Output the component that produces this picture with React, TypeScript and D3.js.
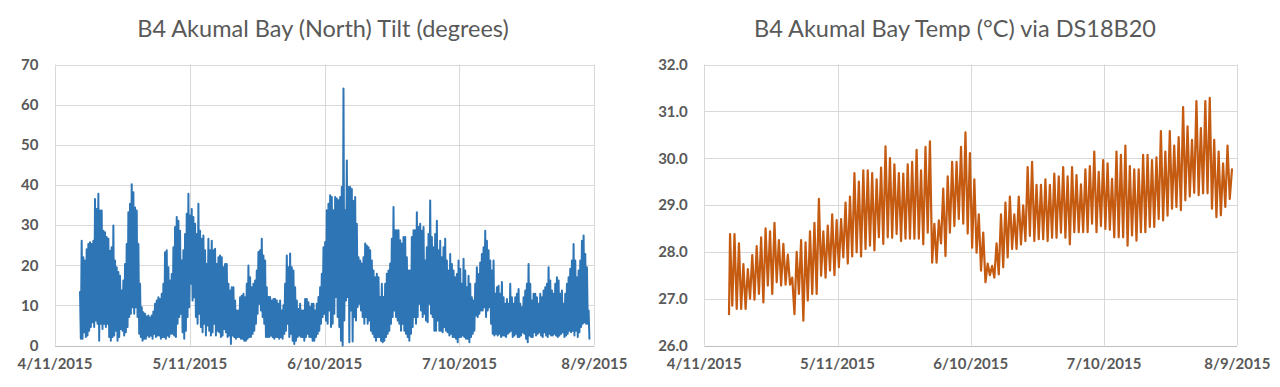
import React from "react";
import * as d3 from "d3";

// ---------- shared x axis ----------
const xTickLabels = ["4/11/2015", "5/11/2015", "6/10/2015", "7/10/2015", "8/9/2015"];

// ---------- Tilt chart (degrees) ----------
const tiltTitle = "B4 Akumal Bay (North) Tilt (degrees)";
const tiltYTicks = [0, 10, 20, 30, 40, 50, 60, 70];
const tiltStart = "2015-04-16T13:35:00";
const tiltStepHours = 8.905;
// upper excursion of each sample window
const tiltHigh = [
  13.3, 26.1, 22.0, 21.2, 24.0, 25.3, 25.7, 25.3, 26.1, 36.5,
  34.0, 37.8, 33.6, 33.6, 28.6, 28.2, 27.0, 26.6, 23.6, 24.5,
  29.9, 21.2, 19.5, 18.3, 17.4, 13.7, 16.2, 20.3, 25.3, 33.2,
  35.3, 40.2, 38.2, 34.4, 33.6, 25.3, 15.4, 9.5, 8.3, 7.9,
  7.2, 7.5, 7.0, 7.5, 8.5, 10.4, 11.2, 12.0, 11.6, 12.9,
  15.4, 23.2, 23.7, 19.5, 16.2, 17.8, 24.5, 29.5, 32.0, 31.1,
  28.6, 21.2, 23.7, 27.8, 32.8, 37.8, 32.4, 34.0, 32.0, 30.3,
  27.8, 35.3, 28.6, 26.6, 27.4, 23.7, 20.3, 26.6, 23.7, 26.1,
  23.7, 24.1, 20.3, 22.0, 22.4, 22.0, 19.5, 20.3, 20.3, 15.4,
  13.7, 14.5, 14.5, 11.2, 8.7, 8.7, 12.0, 12.4, 12.9, 12.0,
  15.4, 19.9, 17.0,
  14.5, 15.4, 16.2, 18.7, 23.3, 23.7, 26.6, 22.4, 21.2, 14.5,
  12.1, 12.1, 11.2, 11.6, 11.6, 11.2, 10.4, 11.2, 8.7, 10.0,
  15.4, 22.4, 19.5, 22.9, 19.5, 18.7, 14.5, 11.2, 9.1, 10.4,
  8.7, 8.7, 11.6, 11.6, 10.8, 9.6, 10.4, 10.4, 8.7, 10.4,
  12.1, 14.5, 17.9, 24.5, 25.8, 33.7, 35.3, 37.4, 37.0, 33.7,
  37.0, 36.6, 36.2, 37.0, 39.5, 64.0, 33.7, 46.1, 39.5, 39.5,
  39.0, 36.0, 37.0, 30.3, 22.0, 21.2, 20.4, 22.0, 25.4, 24.9,
  24.5, 23.7, 21.2, 18.7, 17.0, 17.9, 17.0, 12.1, 15.4, 12.1,
  15.4, 17.9, 18.7, 20.4, 26.6, 34.5, 28.7, 28.7, 28.7, 26.2,
  25.4, 27.0, 27.0, 22.0, 18.7, 18.7, 27.0, 28.7, 28.7, 33.2,
  29.5, 30.3,
  28.6, 29.5, 21.2, 24.5, 27.8, 36.1, 27.0, 24.5, 27.8, 31.1,
  23.7, 26.1, 22.0, 24.5, 26.6, 21.2, 18.7, 22.8, 20.3, 18.7,
  17.0, 17.8, 21.2, 19.1, 15.4, 21.6, 18.7, 14.5, 17.4, 15.4,
  12.0, 11.2, 15.4, 19.5, 17.8, 20.7, 22.8, 24.5, 28.6, 26.1,
  23.7, 21.2, 18.7, 21.2, 12.9, 14.5, 14.9, 12.9, 15.8, 12.0,
  10.4, 11.6, 10.4, 15.4, 12.0, 10.4, 12.0, 12.9, 14.1, 10.4,
  9.5, 12.0, 13.7, 15.4, 20.3, 15.4, 11.2, 12.9, 12.9, 12.0,
  10.4, 12.9, 12.0, 13.7, 14.5, 15.4, 19.5, 16.2, 13.7, 12.9,
  15.4, 17.0, 16.2, 12.9, 13.7, 10.4, 12.9, 15.4, 17.0, 19.1,
  21.2, 25.3, 21.2, 17.0, 18.7, 21.2, 26.1, 27.4, 22.8, 19.5,
  8.7,
];
// lower excursion of each sample window
const tiltLow = [
  1.7, 1.7, 3.3, 2.1, 2.5, 3.7, 4.6, 5.8, 4.6, 6.2,
  5.4, 1.2, 5.4, 4.1, 5.4, 4.6, 5.4, 2.1, 1.2, 2.1,
  2.5, 3.7, 1.2, 2.1, 4.1, 3.7, 2.5, 3.3, 4.6, 7.1,
  7.9, 9.5, 7.9, 9.5, 7.1, 2.9, 2.1, 1.2, 1.7, 1.7,
  2.5, 2.1, 2.5, 1.7, 2.9, 2.1, 2.5, 2.5, 1.7, 2.1,
  2.1, 1.7, 2.5, 2.1, 2.9, 2.9, 2.5, 2.1, 5.4, 7.1,
  7.9, 3.3, 1.7, 3.7, 7.1, 9.5, 15.4, 11.2, 12.0, 7.1,
  5.4, 7.9, 4.6, 3.3, 5.4, 2.5, 5.0, 3.7, 2.5, 3.3,
  5.4, 2.5, 3.7, 3.3, 2.1, 2.5, 4.1, 3.3, 2.1, 2.5,
  0.4, 2.5, 2.1, 1.7, 2.1, 2.1, 1.7, 1.7, 1.2, 1.2,
  1.7, 2.1, 2.1,
  2.9, 3.7, 5.4, 7.9, 10.4, 8.7, 7.1, 5.4, 2.1, 2.1,
  2.1, 2.5, 2.1, 1.7, 2.1, 2.1, 1.7, 2.1, 1.7, 2.9,
  3.7, 5.4, 2.1, 2.9, 1.2, 0.4, 1.2, 2.1, 2.5, 2.1,
  2.1, 1.2, 2.1, 2.9, 2.1, 2.1, 1.2, 1.2, 2.1, 2.9,
  3.7, 5.4, 7.1, 7.9, 6.2, 5.4, 8.7, 4.6, 5.4, 7.9,
  12.1, 7.1, 4.6, 1.2, 0.0, 6.2, 11.2, 12.1, 0.8, 8.7,
  1.0, 7.1, 6.2, 9.6, 10.4, 8.7, 7.1, 5.4, 7.1, 5.4,
  6.2, 3.7, 2.9, 2.1, 1.2, 2.1, 2.1, 1.2, 0.8, 1.2,
  2.1, 2.9, 3.7, 5.4, 7.1, 8.7, 7.1, 6.2, 5.4, 3.7,
  5.4, 3.7, 2.9, 2.1, 1.2, 2.9, 4.6, 7.1, 5.4, 7.1,
  10.4, 8.7,
  7.1, 7.9, 6.2, 5.8, 10.4, 7.9, 7.1, 3.7, 3.7, 6.2,
  3.7, 3.7, 3.3, 4.6, 3.7, 3.3, 2.5, 2.9, 2.1, 2.1,
  1.7, 0.8, 2.1, 2.1, 2.5, 2.1, 1.7, 1.7, 0.8, 2.1,
  2.9, 3.7, 7.5, 7.1, 7.9, 8.7, 8.7, 9.5, 7.1, 8.7,
  9.5, 5.4, 2.9, 2.5, 2.9, 2.5, 2.9, 2.1, 2.5, 2.5,
  2.1, 2.9, 3.3, 3.7, 2.1, 2.5, 2.9, 2.1, 2.1, 2.5,
  3.3, 2.9, 1.7, 0.8, 2.5, 2.1, 2.1, 3.3, 2.5, 2.9,
  3.3, 2.5, 2.1, 3.3, 2.5, 2.1, 2.9, 2.5, 2.5, 2.9,
  2.5, 2.1, 2.5, 2.9, 3.3, 2.1, 2.5, 2.9, 3.7, 3.3,
  3.7, 2.5, 3.7, 2.1, 3.3, 4.6, 5.4, 5.8, 5.4, 5.4,
  1.7,
];

// ---------- Temperature chart (°C) ----------
const tempTitle = "B4 Akumal Bay Temp (°C) via DS18B20";
const tempYTicks = [26, 27, 28, 29, 30, 31, 32];
const tempStartTime = "2015-04-16T13:30:00";
const tempStartValue = 26.67;
const tempFirstPeak = "2015-04-16T19:10:00";
// daily maxima
const tempPeaks = [
  28.38, 28.38, 28.18, 27.74, 27.63, 27.93, 28.12, 28.31, 28.5, 28.44,
  28.62, 28.25, 28.17, 27.94, 27.45, 28.0, 28.25, 28.2, 28.44, 28.62,
  29.13, 28.44, 28.56, 28.8, 28.68, 28.7, 29.05, 29.18, 29.68, 29.5,
  29.74, 29.74, 29.68, 29.55, 29.8, 30.25, 30.0, 29.87, 29.68,
  29.67, 29.87, 29.92, 30.18, 29.74, 30.24, 30.36, 28.6, 28.67, 29.35,
  29.61, 29.92, 29.92, 30.24, 30.55, 30.11, 29.55, 28.8, 28.41, 27.75,
  27.7, 28.18, 28.8, 29.05, 29.18, 28.8, 29.18, 28.99, 29.81, 29.92,
  29.43, 29.43, 29.55, 29.43, 29.67, 29.61, 29.81, 29.61, 29.81,
  29.64, 29.44, 29.76, 29.83, 30.14, 29.71, 29.96, 29.89, 29.56, 30.14,
  30.07, 30.27, 29.83, 29.76, 29.76, 30.07, 30.07, 29.96, 30.02, 30.58,
  30.14, 30.58, 30.27, 30.45, 31.09, 30.68, 30.39, 31.22, 30.64, 31.22,
  31.29, 30.39, 30.14, 29.89, 30.27, 29.76,
];
// daily minima (following each maximum)
const tempTroughs = [
  26.85, 26.78, 26.78, 26.78, 27.0, 26.98, 27.1, 26.92, 27.28, 27.1,
  27.35, 27.28, 27.3, 27.3, 26.67, 27.1, 26.53, 26.96, 27.1, 27.1,
  27.49, 27.45, 27.6, 27.5, 27.67, 27.88, 27.75, 27.9, 27.99, 27.9,
  28.06, 28.13, 28.03, 28.31, 28.17, 28.31, 28.3, 28.38, 28.23,
  28.28, 28.28, 28.28, 28.28, 28.16, 28.41, 27.77, 27.77, 28.18, 27.91,
  28.41, 28.55, 28.7, 28.6, 28.39, 28.09, 27.98, 27.6, 27.35, 27.5,
  27.45, 27.52, 27.67, 27.88, 28.06, 28.06, 28.16, 28.23, 28.34, 28.23,
  28.27, 28.27, 28.23, 28.3, 28.3, 28.41, 28.3, 28.16, 28.42,
  28.42, 28.42, 28.42, 28.6, 28.42, 28.55, 28.49, 28.47, 28.31, 28.31,
  28.31, 28.13, 28.35, 28.24, 28.42, 28.42, 28.53, 28.53, 28.7, 28.67,
  28.77, 28.92, 28.96, 28.89, 29.1, 29.18, 29.26, 29.21, 29.25, 29.25,
  28.92, 28.74, 28.78, 28.96, 29.13,
];

const parseTick = d3.timeParse("%m/%d/%Y");
const tickDates = xTickLabels.map((s) => parseTick(s) as Date);

const HOUR = 3600 * 1000;

type Pt = [Date, number];

function tiltSeries(): Pt[] {
  const t0 = new Date(tiltStart).getTime();
  const pts: Pt[] = [];
  tiltHigh.forEach((h, i) => {
    pts.push([new Date(t0 + i * tiltStepHours * HOUR), h]);
    pts.push([new Date(t0 + (i + 0.5) * tiltStepHours * HOUR), tiltLow[i]]);
  });
  return pts;
}

function tempSeries(): Pt[] {
  const p0 = new Date(tempFirstPeak).getTime();
  const pts: Pt[] = [[new Date(tempStartTime), tempStartValue]];
  tempPeaks.forEach((p, i) => {
    pts.push([new Date(p0 + i * 24 * HOUR), p]);
    if (i < tempTroughs.length) pts.push([new Date(p0 + (i + 0.5) * 24 * HOUR), tempTroughs[i]]);
  });
  return pts;
}

const FONT = "Lato, 'Open Sans', sans-serif";
const TEXT = "#595959";

function Panel(props: {
  x0: number; x1: number; titleX: number; title: string;
  yDomain: [number, number]; yTicks: number[]; fmt: (v: number) => string;
  data: Pt[]; color: string; width: number;
}) {
  const top = 64.5, bottom = 345.5;
  const x = d3.scaleTime().domain([tickDates[0], tickDates[tickDates.length - 1]]).range([props.x0, props.x1]);
  const y = d3.scaleLinear().domain(props.yDomain).range([bottom, top]);
  const line = d3.line<Pt>().x((d) => x(d[0])).y((d) => y(d[1]));
  return (
    <g>
      <text x={props.titleX} y={37} textAnchor="middle" fontFamily={FONT} fontSize={23.5} fill={TEXT}>{props.title}</text>
      {props.yTicks.map((t) => (
        <line key={"h" + t} x1={props.x0} x2={props.x1} y1={Math.round(y(t)) + 0.5} y2={Math.round(y(t)) + 0.5}
          stroke={t === props.yDomain[0] ? "#BFBFBF" : "#D9D9D9"} strokeWidth={1} />
      ))}
      {tickDates.map((d, i) => (
        <line key={"v" + i} x1={Math.round(x(d)) + 0.5} x2={Math.round(x(d)) + 0.5} y1={top} y2={bottom}
          stroke="#D9D9D9" strokeWidth={1} />
      ))}
      {props.yTicks.map((t) => (
        <text key={"yl" + t} x={props.x0 - 16.5} y={y(t)} dy="0.36em" textAnchor="end"
          fontFamily={FONT} fontWeight="bold" fontSize={15} fill={TEXT}>{props.fmt(t)}</text>
      ))}
      {tickDates.map((d, i) => (
        <text key={"xl" + i} x={x(d)} y={368.5} textAnchor="middle"
          fontFamily={FONT} fontWeight="bold" fontSize={15} fill={TEXT}>{xTickLabels[i]}</text>
      ))}
      <path d={line(props.data) || ""} fill="none" stroke={props.color} strokeWidth={props.width}
        strokeLinejoin="round" strokeLinecap="round" />
    </g>
  );
}

export default function App() {
  const tilt = tiltSeries();
  const temp = tempSeries();
  return (
    <svg width={1280} height={387} style={{ position: "absolute", left: 0, top: 0, background: "#fff" }}>
      <rect x={0} y={0} width={1280} height={387} fill="#fff" />
      <Panel x0={55} x1={594.3} titleX={323} title={tiltTitle} yDomain={[0, 70]} yTicks={tiltYTicks}
        fmt={(v) => String(v)} data={tilt} color="#2E75B6" width={2} />
      <Panel x0={704.3} x1={1237.3} titleX={955} title={tempTitle} yDomain={[26, 32]} yTicks={tempYTicks}
        fmt={(v) => v.toFixed(1)} data={temp} color="#C55A11" width={2.2} />
    </svg>
  );
}
